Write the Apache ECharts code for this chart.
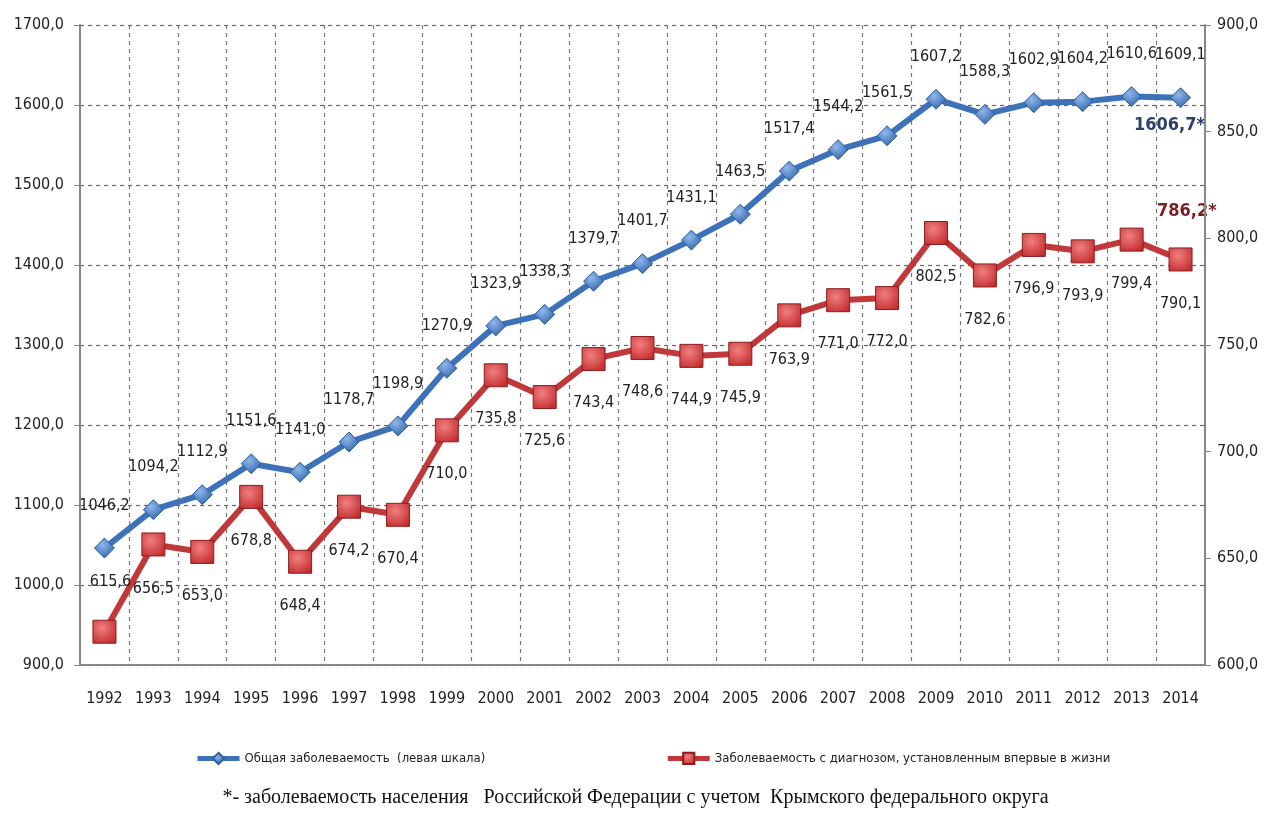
<!DOCTYPE html>
<html><head><meta charset="utf-8">
<script src="https://cdn.jsdelivr.net/npm/echarts@6/dist/echarts.min.js"></script>
<style>html,body{margin:0;padding:0;background:#fff}#c{width:1271px;height:816px}</style>
</head><body><div id="c"></div>
<script>
const years = ['1992','1993','1994','1995','1996','1997','1998','1999','2000','2001','2002','2003','2004','2005','2006','2007','2008','2009','2010','2011','2012','2013','2014'];
const totalMorbidity = [1046.2,1094.2,1112.9,1151.6,1141.0,1178.7,1198.9,1270.9,1323.9,1338.3,1379.7,1401.7,1431.1,1463.5,1517.4,1544.2,1561.5,1607.2,1588.3,1602.9,1604.2,1610.6,1609.1];
const newMorbidity = [615.6,656.5,653.0,678.8,648.4,674.2,670.4,710.0,735.8,725.6,743.4,748.6,744.9,745.9,763.9,771.0,772.0,802.5,782.6,796.9,793.9,799.4,790.1];
const seriesNames = ['Общая заболеваемость  (левая шкала)','Заболеваемость с диагнозом, установленным впервые в жизни'];
const crimeaTotal = '1606,7*';
const crimeaNew = '786,2*';
const footnote = '*- заболеваемость населения   Российской Федерации с учетом  Крымского федерального округа';

const fmt = v => v.toFixed(1).replace('.', ',');
const font = "'Liberation Sans Narrow','DejaVu Sans Condensed','Liberation Sans',sans-serif";
const chart = echarts.init(document.getElementById('c'));
chart.setOption({
  animation:false,
  grid:{left:80,right:66,top:25,bottom:151},
  legend:{
    bottom:46,left:190,itemGap:180,itemWidth:42,itemHeight:14,
    lineStyle:{width:5},
    textStyle:{fontFamily:font,fontSize:13,color:'#222'},
    data:seriesNames
  },
  xAxis:{
    type:'category',data:years,boundaryGap:true,
    axisLine:{lineStyle:{color:'#888',width:2}},
    axisTick:{show:false},
    splitLine:{show:true,lineStyle:{color:'#777',type:[4,4],width:1.2}},
    axisLabel:{fontFamily:font,fontSize:16,color:'#222',margin:26,interval:0}
  },
  yAxis:[{
    type:'value',min:900,max:1700,interval:100,position:'left',
    axisLine:{show:true,lineStyle:{color:'#888',width:2}},
    axisTick:{show:true,length:6,lineStyle:{color:'#888'}},
    splitLine:{lineStyle:{color:'#666',type:[4,4],width:1.2}},
    axisLabel:{fontFamily:font,fontSize:16,color:'#222',formatter:fmt,margin:16}
  },{
    type:'value',min:600,max:900,interval:50,position:'right',
    axisLine:{show:true,lineStyle:{color:'#888',width:2}},
    axisTick:{show:true,length:6,lineStyle:{color:'#888'}},
    splitLine:{show:false},
    axisLabel:{fontFamily:font,fontSize:16,color:'#222',formatter:fmt,margin:12}
  }],
  series:[{
    name:seriesNames[0],type:'line',yAxisIndex:0,data:totalMorbidity,
    lineStyle:{color:'#3e72b8',width:6},
    itemStyle:{color:{type:'radial',x:0.4,y:0.35,r:0.7,colorStops:[{offset:0,color:'#8fb8ec'},{offset:1,color:'#2f62a8'}]},borderColor:'#2f5f9f',borderWidth:1},
    symbol:'diamond',symbolSize:20,
    label:{show:true,position:'top',distance:24,formatter:p=>fmt(p.value),fontFamily:font,fontSize:16,color:'#222'},
    z:3
  },{
    name:seriesNames[1],type:'line',yAxisIndex:1,
    data:newMorbidity.map((v,i)=> i===0 ? {value:v,label:{position:'top',distance:30,offset:[6,0]}} : v),
    lineStyle:{color:'#c0383a',width:6},
    itemStyle:{color:{type:'radial',x:0.4,y:0.35,r:0.75,colorStops:[{offset:0,color:'#f07f7f'},{offset:1,color:'#c22a2c'}]},borderColor:'#8a1e20',borderWidth:1},
    symbol:'rect',symbolSize:23,
    label:{show:true,position:'bottom',distance:24,formatter:p=>fmt(p.value),fontFamily:font,fontSize:16,color:'#222'},
    z:2
  }],
  graphic:[
    {type:'text',left:1134,top:116,style:{text:crimeaTotal,font:"bold 18px "+font,fill:'#2a3f6a'}},
    {type:'text',left:1157,top:202,style:{text:crimeaNew,font:"bold 18px "+font,fill:'#7a1f22'}},
    {type:'text',left:'center',top:788,style:{text:footnote,font:"20px 'Liberation Serif','DejaVu Serif',serif",fill:'#111'}}
  ]
});
</script></body></html>
